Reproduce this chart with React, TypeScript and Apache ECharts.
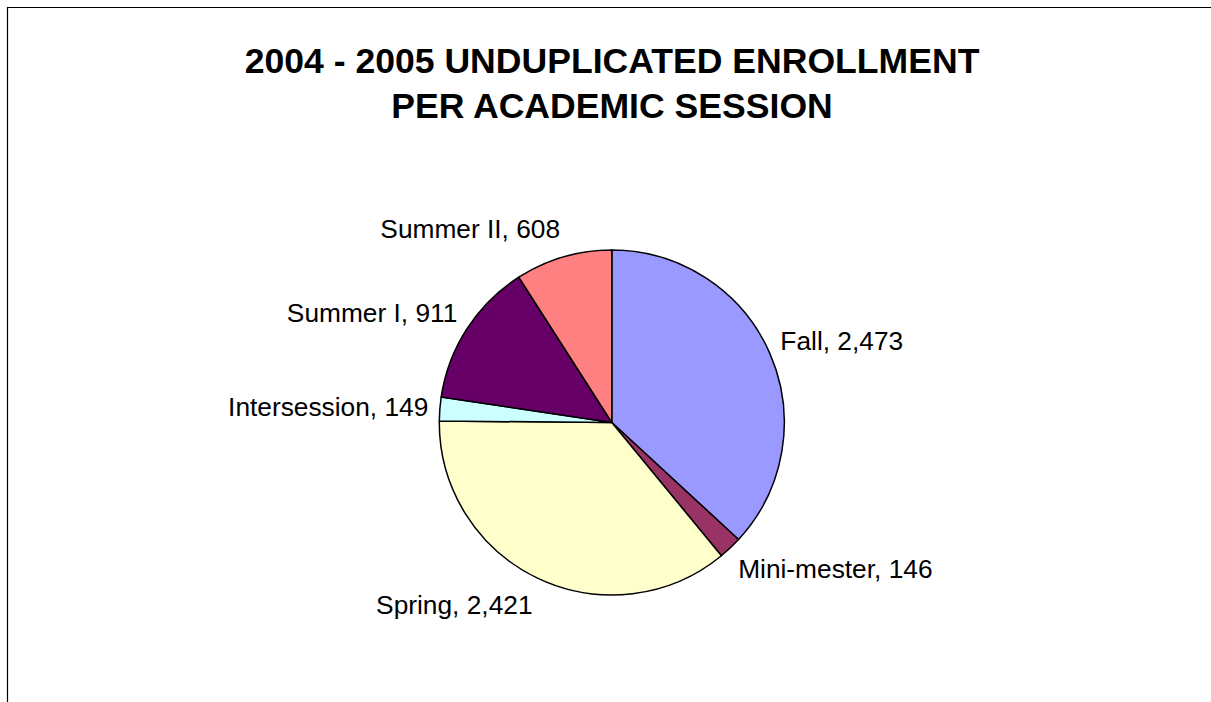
import React, { useEffect, useRef } from "react";
import * as echarts from "echarts";

const titleLines = ["2004 - 2005 UNDUPLICATED ENROLLMENT", "PER ACADEMIC SESSION"];
const sessions = ["Fall", "Mini-mester", "Spring", "Intersession", "Summer I", "Summer II"];
const enrollment = [2473, 146, 2421, 149, 911, 608];
const sliceColors = ["#9999FF", "#993366", "#FFFFCC", "#CCFFFF", "#660066", "#FF8080"];

const W = 1211;
const H = 702;
const CX = 611.8;
const CY = 422.5;
const R = 172.5;
const LABEL_GAP = 11.5;
const LABEL_VSHIFT = 18;
const FONT = "'Liberation Sans', Arial, Helvetica, sans-serif";

export default function App() {
  const ref = useRef<HTMLDivElement>(null);

  useEffect(() => {
    if (!ref.current) return;
    const chart = echarts.init(ref.current, null, { renderer: "svg" });
    const total = enrollment.reduce((a, b) => a + b, 0);

    chart.setOption({
      animation: false,
      backgroundColor: "#ffffff",
      title: {
        text: titleLines.join("\n"),
        left: 612,
        top: 38,
        padding: 0,
        textAlign: "center",
        textStyle: {
          fontFamily: FONT,
          fontSize: 35.6,
          fontWeight: "bold",
          color: "#000000",
          lineHeight: 45.5,
        },
      },
      graphic: [
        {
          type: "polyline",
          shape: { points: [[7.5, 720], [7.5, 7.5], [1220, 7.5]] },
          style: { stroke: "#000000", lineWidth: 1.2, fill: "none" },
          silent: true,
        },
      ],
      series: [
        {
          type: "pie",
          center: [CX, CY],
          radius: R,
          startAngle: 90,
          clockwise: true,
          avoidLabelOverlap: false,
          silent: true,
          data: sessions.map((name, i) => ({
            name,
            value: enrollment[i],
            itemStyle: { color: sliceColors[i] },
          })),
          itemStyle: { borderColor: "#000000", borderWidth: 1.5 },
          label: {
            show: true,
            position: "outside",
            fontFamily: FONT,
            fontSize: 26.3,
            color: "#000000",
            formatter: (p: any) => `${p.name}, ${Number(p.value).toLocaleString("en-US")}`,
          },
          labelLine: { show: false, length: 10, length2: 0 },
          labelLayout: (p: any) => {
            const i = p.dataIndex;
            let before = 0;
            for (let k = 0; k < i; k++) before += enrollment[k];
            const mid = ((before + enrollment[i] / 2) / total) * Math.PI * 2;
            const dx = Math.sin(mid);
            const dy = -Math.cos(mid);
            const d = R + LABEL_GAP;
            return {
              x: CX + dx * d,
              y: CY + dy * (d + LABEL_VSHIFT),
              align: dx >= 0 ? "left" : "right",
              verticalAlign: "middle",
            };
          },
        },
      ],
    });

    return () => chart.dispose();
  }, []);

  return (
    <div
      ref={ref}
      style={{ position: "fixed", left: 0, top: 0, width: W, height: H }}
    />
  );
}
